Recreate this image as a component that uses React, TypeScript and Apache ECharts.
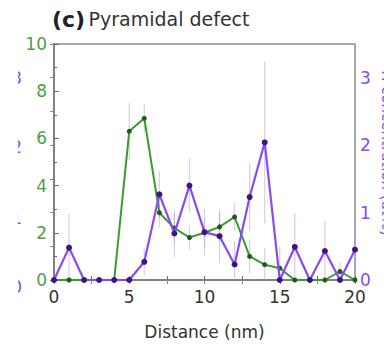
import React, { useEffect, useRef } from "react";
import * as echarts from "echarts";

const distance = [0, 1, 2, 3, 4, 5, 6, 7, 8, 9, 10, 11, 12, 13, 14, 15, 16, 17, 18, 19, 20];
const greenValues = [0, 0, 0, 0, 0, 6.3, 6.85, 2.85, 2.2, 1.8, 2.0, 2.25, 2.67, 1.0, 0.65, 0.5, 0, 0, 0, 0.36, 0];
const greenErrors = [0, 0, 0, 0, 0, 1.2, 0.6, 0.6, 0.6, 0.5, 0.6, 0.6, 0.6, 0.7, 0.7, 0.9, 0, 0, 0, 0.4, 0];
const hValues = [0, 0.48, 0, 0, 0, 0, 0.27, 1.27, 0.69, 1.4, 0.71, 0.65, 0.23, 1.23, 2.04, 0, 0.49, 0, 0.43, 0, 0.45];
const hErrors = [0, 0.5, 0, 0, 0, 0, 0.2, 0.35, 0.35, 0.4, 0.35, 0.4, 0.35, 0.5, 1.2, 0, 0.5, 0, 0.45, 0, 0.4];
const leftFragments = ["3", "2", "1", "0"];

const GREEN = "#3a9a32";
const GREEN_DARK = "#1f5a1c";
const PURPLE = "#8a4af0";
const PURPLE_DARK = "#3a1780";
const FONT = "DejaVu Sans";

function errorSeries(vals: number[], errs: number[], yAxisIndex: number, color: string) {
  const data = vals
    .map((v, i) => [distance[i], Math.max(0, v - errs[i]), v + errs[i], errs[i]])
    .filter((d) => d[3] > 0);
  return {
    type: "custom",
    xAxisIndex: 0,
    yAxisIndex,
    silent: true,
    z: 1,
    encode: { x: 0, y: [1, 2] },
    data,
    renderItem: (params: any, api: any) => {
      const x = api.value(0);
      const lo = api.coord([x, api.value(1)]);
      const hi = api.coord([x, api.value(2)]);
      return {
        type: "line",
        shape: { x1: lo[0], y1: lo[1], x2: hi[0], y2: hi[1] },
        style: { stroke: color, lineWidth: 1.2 },
      };
    },
  };
}

export default function App() {
  const ref = useRef<HTMLDivElement>(null);
  useEffect(() => {
    if (!ref.current) return;
    const chart = echarts.init(ref.current, null, { renderer: "svg" });
    const fragY = [78, 147, 218, 287];
    chart.setOption({
      animation: false,
      backgroundColor: "#ffffff",
      grid: {
        left: 54,
        right: 29,
        top: 44,
        bottom: 58,
        show: true,
        borderColor: "#8a8a8a",
        borderWidth: 1.5,
      },
      graphic: [
        {
          type: "text",
          left: 52,
          top: 8,
          style: {
            text: "{b|(c)} {n|Pyramidal defect}",
            rich: {
              b: { fontFamily: FONT, fontSize: 22, fontWeight: "bold", fill: "#222" },
              n: { fontFamily: FONT, fontSize: 19, fill: "#333" },
            },
          },
        },
        ...leftFragments.map((t, i) => ({
          type: "text",
          x: 22,
          y: fragY[i],
          z: 1,
          style: {
            text: t,
            align: "right",
            verticalAlign: "middle",
            fontFamily: FONT,
            fontSize: 17,
            fill: PURPLE,
          },
        })),
        {
          type: "rect",
          shape: { x: 0, y: 60, width: 18, height: 240 },
          z: 2,
          style: { fill: "#ffffff" },
        },
        {
          type: "text",
          x: 387,
          y: 153,
          rotation: -Math.PI / 2,
          style: {
            text: "H concentration (at%)",
            align: "center",
            verticalAlign: "middle",
            fontFamily: FONT,
            fontSize: 15,
            fill: PURPLE,
          },
        },
      ],
      xAxis: [
        {
          type: "value",
          min: 0,
          max: 20,
          interval: 2.5,
          position: "bottom",
          name: "Distance (nm)",
          nameLocation: "middle",
          nameGap: 43,
          nameTextStyle: { fontFamily: FONT, fontSize: 17, color: "#333" },
          axisLine: { show: true, lineStyle: { color: "#6a6a6a", width: 2 } },
          axisTick: { show: true, inside: true, length: 4, lineStyle: { color: "#6a6a6a" } },
          axisLabel: {
            fontFamily: FONT,
            fontSize: 17,
            color: "#333",
            margin: 8,
            formatter: (v: number) => (v % 5 === 0 ? String(v) : ""),
          },
          splitLine: { show: false },
        },
        {
          type: "value",
          min: 0,
          max: 20,
          interval: 2.5,
          position: "top",
          axisLine: { show: true, lineStyle: { color: "#8a8a8a", width: 1.5 } },
          axisTick: { show: true, inside: true, length: 4, lineStyle: { color: "#8a8a8a" } },
          axisLabel: { show: false },
          splitLine: { show: false },
        },
      ],
      yAxis: [
        {
          type: "value",
          min: 0,
          max: 10,
          interval: 2,
          position: "left",
          axisLine: { show: true, lineStyle: { color: "#6a6a6a", width: 2 } },
          axisTick: { show: true, inside: true, length: 5, lineStyle: { color: "#6a6a6a" } },
          minorTick: { show: true, splitNumber: 2, length: 3, lineStyle: { color: "#6a6a6a" } },
          axisLabel: { fontFamily: FONT, fontSize: 17, color: "#4f9e3f", margin: 7 },
          splitLine: { show: false },
        },
        {
          type: "value",
          min: 0,
          max: 3.5,
          interval: 0.5,
          position: "right",
          axisLine: { show: true, lineStyle: { color: "#8a8a8a", width: 1.5 } },
          axisTick: { show: true, inside: true, length: 4, lineStyle: { color: "#8a8a8a" } },
          axisLabel: {
            fontFamily: FONT,
            fontSize: 17,
            color: PURPLE,
            margin: 5,
            formatter: (v: number) => (Number.isInteger(v) ? String(v) : ""),
          },
          splitLine: { show: false },
        },
      ],
      series: [
        errorSeries(greenValues, greenErrors, 0, "rgba(175,180,160,0.55)"),
        errorSeries(hValues, hErrors, 1, "rgba(185,160,235,0.55)"),
        {
          type: "line",
          xAxisIndex: 0,
          yAxisIndex: 0,
          data: distance.map((d, i) => [d, greenValues[i]]),
          symbol: "circle",
          symbolSize: 5,
          lineStyle: { color: GREEN, width: 2 },
          itemStyle: { color: GREEN_DARK },
          z: 3,
        },
        {
          type: "line",
          xAxisIndex: 0,
          yAxisIndex: 1,
          data: distance.map((d, i) => [d, hValues[i]]),
          symbol: "circle",
          symbolSize: 6,
          lineStyle: { color: PURPLE, width: 2.2 },
          itemStyle: { color: PURPLE_DARK },
          z: 4,
        },
      ],
    });
    return () => chart.dispose();
  }, []);
  return (
    <div
      ref={ref}
      style={{ position: "fixed", left: 0, top: 0, width: 384, height: 345 }}
    />
  );
}
